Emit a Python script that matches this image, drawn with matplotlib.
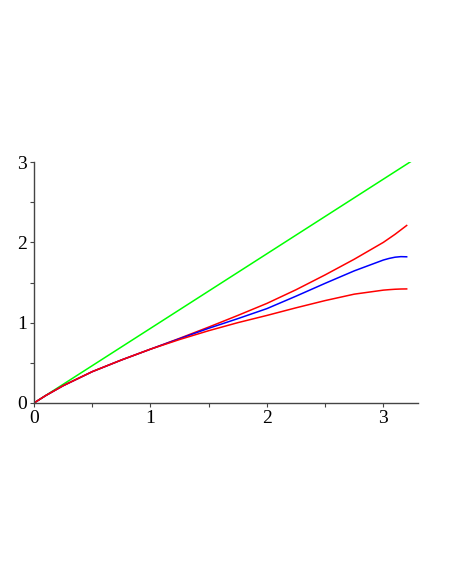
import matplotlib
matplotlib.use('Agg')
import matplotlib.pyplot as plt
from matplotlib.ticker import MultipleLocator

# values
x = [0, 0.1, 0.25, 0.5, 0.75, 1.0, 1.25, 1.5, 1.75, 2.0, 2.25, 2.5, 2.75, 3.0, 3.05, 3.1, 3.15, 3.2]
upper_red = [0, 0.092, 0.215, 0.39, 0.535, 0.67, 0.805, 0.945, 1.09, 1.24, 1.41, 1.595, 1.79, 2.0, 2.05, 2.10, 2.155, 2.21]
blue = [0, 0.092, 0.215, 0.39, 0.535, 0.67, 0.80, 0.93, 1.05, 1.175, 1.33, 1.49, 1.645, 1.78, 1.80, 1.815, 1.822, 1.82]
lower_red = [0, 0.092, 0.215, 0.39, 0.535, 0.67, 0.79, 0.90, 1.00, 1.09, 1.185, 1.275, 1.355, 1.405, 1.411, 1.416, 1.419, 1.42]
green_x = [0, 3.24]
green_y = [0, 3.01]

fig = plt.figure(figsize=(4.5, 5.82), dpi=100)
ax = fig.add_axes([0.0756, 0.3076, 0.854, 0.414])

ax.plot(green_x, green_y, color='#00ff00', lw=1.1)
ax.plot(x, upper_red, color='#ff0000', lw=1.1)
ax.plot(x, blue, color='#0000ff', lw=1.1)
ax.plot(x, lower_red, color='#ff0000', lw=1.1)

ax.set_xlim(0, 3.3)
ax.set_ylim(0, 3)
for s in ('top', 'right'):
    ax.spines[s].set_visible(False)
for s in ('left', 'bottom'):
    ax.spines[s].set_color('#444444')
    ax.spines[s].set_linewidth(1.0)

ax.xaxis.set_major_locator(MultipleLocator(1))
ax.xaxis.set_minor_locator(MultipleLocator(0.5))
ax.yaxis.set_major_locator(MultipleLocator(1))
ax.yaxis.set_minor_locator(MultipleLocator(0.5))
ax.tick_params(which='both', direction='out', length=3, width=0.8, color='#444444')
ax.tick_params(labelsize=14, pad=2)
for lab in ax.get_xticklabels() + ax.get_yticklabels():
    lab.set_family('Liberation Serif')

fig.savefig('out.png', dpi=100)
